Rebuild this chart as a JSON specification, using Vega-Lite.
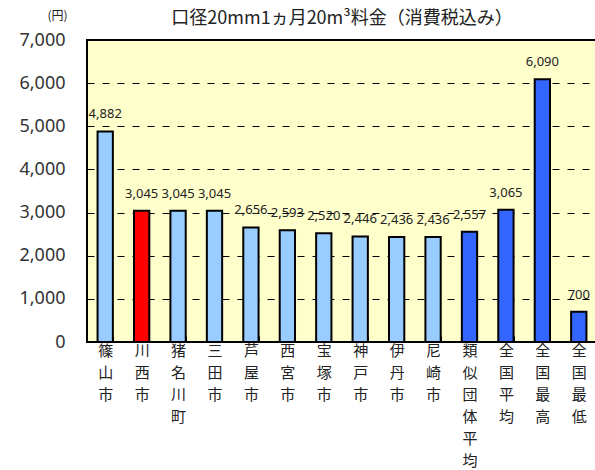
{
  "$schema": "https://vega.github.io/schema/vega-lite/v6.json",
  "autosize": {"type": "none"},
  "padding": {"left": 87, "top": 40, "right": 0, "bottom": 128},
  "width": 510,
  "height": 302,
  "background": "white",
  "title": {
    "text": "口径20mm1ヵ月20m³料金（消費税込み）",
    "font": "Noto Sans CJK JP",
    "fontSize": 18,
    "fontWeight": "normal",
    "color": "#222",
    "anchor": "middle",
    "offset": 8,
    "dy": 27
  },
  "config": {
    "view": {"fill": "#FFFFCC", "stroke": "black", "strokeWidth": 2},
    "font": "Noto Sans CJK JP"
  },
  "data": {
    "values": [
      {"name": "篠山市", "value": 4882, "type": "市町"},
      {"name": "川西市", "value": 3045, "type": "川西市"},
      {"name": "猪名川町", "value": 3045, "type": "市町"},
      {"name": "三田市", "value": 3045, "type": "市町"},
      {"name": "芦屋市", "value": 2656, "type": "市町"},
      {"name": "西宮市", "value": 2593, "type": "市町"},
      {"name": "宝塚市", "value": 2520, "type": "市町"},
      {"name": "神戸市", "value": 2446, "type": "市町"},
      {"name": "伊丹市", "value": 2436, "type": "市町"},
      {"name": "尼崎市", "value": 2436, "type": "市町"},
      {"name": "類似団体平均", "value": 2557, "type": "全国等"},
      {"name": "全国平均", "value": 3065, "type": "全国等"},
      {"name": "全国最高", "value": 6090, "type": "全国等"},
      {"name": "全国最低", "value": 700, "type": "全国等"}
    ]
  },
  "encoding": {
    "x": {
      "field": "name",
      "type": "nominal",
      "sort": null,
      "scale": {"paddingInner": 0.58, "paddingOuter": 0.29},
      "axis": {
        "title": null,
        "labelAngle": 0,
        "labelExpr": "split(datum.label, '')",
        "labelFont": "Noto Sans CJK JP",
        "labelFontSize": 15,
        "labelLineHeight": 22,
        "labelColor": "#222",
        "labelPadding": 7,
        "labelBaseline": "top",
        "tickBand": "extent",
        "tickSize": -6,
        "tickColor": "black",
        "tickWidth": 1,
        "domain": false,
        "grid": false
      }
    },
    "y": {
      "field": "value",
      "type": "quantitative",
      "scale": {"domain": [0, 7000]},
      "axis": {
        "values": [0, 1000, 2000, 3000, 4000, 5000, 6000, 7000],
        "format": ",d",
        "title": "(円)",
        "titleAngle": 0,
        "titleFont": "Noto Sans CJK JP",
        "titleFontSize": 12,
        "titleFontWeight": "normal",
        "titleColor": "#222",
        "titleX": -30,
        "titleY": -18,
        "titleAlign": "center",
        "labelFontSize": 18,
        "labelFont": "Noto Sans",
        "labelColor": "#333",
        "labelPadding": 22,
        "ticks": false,
        "domain": false,
        "grid": true,
        "gridColor": "black",
        "gridDash": [7, 8],
        "gridWidth": 1
      }
    }
  },
  "layer": [
    {
      "mark": {"type": "bar", "stroke": "black", "strokeWidth": 2},
      "encoding": {
        "color": {
          "field": "type",
          "type": "nominal",
          "scale": {"domain": ["市町", "川西市", "全国等"], "range": ["#99CCFF", "#FF0000", "#3366FF"]},
          "legend": null
        }
      }
    },
    {
      "mark": {"type": "text", "baseline": "bottom", "dy": -10, "fontSize": 13, "font": "Noto Sans", "color": "#222"},
      "encoding": {
        "text": {"field": "value", "type": "quantitative", "format": ",d"}
      }
    }
  ]
}
